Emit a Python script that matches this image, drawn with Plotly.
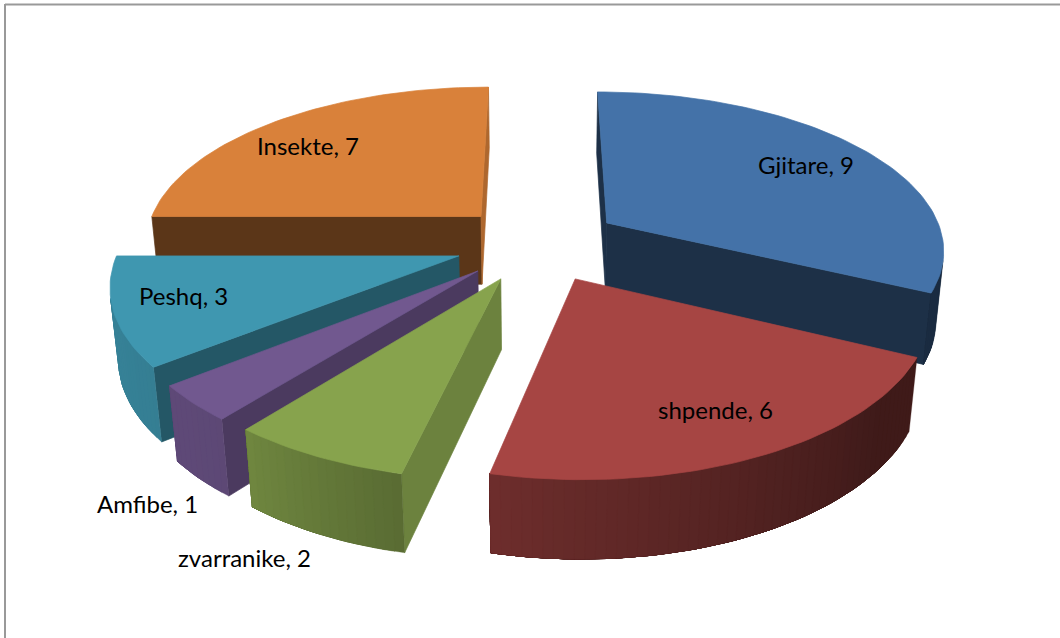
import numpy as np
import plotly.graph_objects as go

categories = ["Gjitare", "shpende", "zvarranike", "Amfibe", "Peshq", "Insekte"]
values = [9, 6, 2, 1, 3, 7]
colors = ["#4472A8", "#A64543", "#87A34D", "#71588F", "#3F97B0", "#D9813A"]
label_x = [806, 715, 244, 147, 183, 308]
label_y = [164, 409, 557, 503, 295, 145]

# projection of the exploded pie (camera looks down on a unit-radius disc)
W, H = 1060, 638
CX, CY = 538, 243
SCALE = 338.0
TILT = np.radians(27.7)
DIST = 5.7
HEIGHT = 0.235
EXPLODE = 0.245
STEP = 1.5


def project(x, y, z):
    d = DIST + y * np.cos(TILT) - z * np.sin(TILT)
    k = SCALE * DIST / d
    return CX + k * x, CY - k * (y * np.sin(TILT) + z * np.cos(TILT))


def clock(a):
    r = np.radians(a)
    return np.sin(r), np.cos(r)


def rim_shade(a):
    return np.interp(a, [130, 193, 218, 270], [0.38, 0.66, 0.82, 0.88])


def wall_shade(a):
    return np.interp(a % 360, [90, 103, 129, 141, 180], [0.8, 0.8, 0.66, 0.58, 0.42])


def shade(col, f):
    r, g, b = (int(col[i:i + 2], 16) for i in (1, 3, 5))
    return f"rgb({r * f:.0f},{g * f:.0f},{b * f:.0f})"


CAMERA = np.array([0.0, -DIST * np.cos(TILT), DIST * np.sin(TILT)])


def faces_camera(px, py, nx, ny):
    return (CAMERA[0] - px) * nx + (CAMERA[1] - py) * ny > 0


fig = go.Figure()


def poly(pts, color, name, width=0.7):
    xs, ys = zip(*[project(*p) for p in pts])
    fig.add_trace(go.Scatter(
        x=list(xs) + [xs[0]], y=list(ys) + [ys[0]], mode="lines", fill="toself",
        fillcolor=color, line=dict(color=color, width=width), hoverinfo="text",
        text=name, showlegend=False))


total = sum(values)
edges = np.concatenate([[0], np.cumsum(values)]) / total * 360
slices = []
for i in range(len(values)):
    a0, a1 = edges[i], edges[i + 1]
    slices.append((np.cos(np.radians((a0 + a1) / 2)), i, a0, a1))
slices.sort(key=lambda s: -s[0])

for _, i, a0, a1 in slices:
    col, name = colors[i], f"{categories[i]}, {values[i]}"
    mx, my = clock((a0 + a1) / 2)
    ox, oy = EXPLODE * mx, EXPLODE * my
    # radial walls
    for a, normal in ((a0, a0 - 90), (a1, a1 + 90)):
        nx, ny = clock(normal)
        if faces_camera(ox, oy, nx, ny):
            dx, dy = clock(a)
            poly([(ox, oy, 0), (ox + dx, oy + dy, 0), (ox + dx, oy + dy, -HEIGHT), (ox, oy, -HEIGHT)],
                 shade(col, wall_shade(normal)), name)
    # curved outer wall: each band runs to the end of the visible arc, the next one paints over it
    n = max(2, int(np.ceil((a1 - a0) / STEP)))
    grid = np.linspace(a0, a1, n + 1)
    visible = [b for b in grid if faces_camera(ox + clock(b)[0], oy + clock(b)[1], *clock(b))]
    for j in range(len(visible) - 1):
        arc = visible[j:]
        top = [(ox + clock(b)[0], oy + clock(b)[1], 0) for b in arc]
        bottom = [(ox + clock(b)[0], oy + clock(b)[1], -HEIGHT) for b in arc[::-1]]
        poly(top + bottom, shade(col, rim_shade((visible[j] + visible[j + 1]) / 2)), name, width=0.3)
    # top face
    pts = [(ox, oy, 0)] + [(ox + clock(b)[0], oy + clock(b)[1], 0) for b in grid]
    poly(pts, col, name)

annotations = [
    dict(x=x, y=y, text=f"{c}, {v}", showarrow=False, xanchor="center", yanchor="middle",
         font=dict(family="Lato", size=24, color="#000000"))
    for c, v, x, y in zip(categories, values, label_x, label_y)
]

fig.update_layout(
    width=W, height=H, margin=dict(l=0, r=0, t=0, b=0),
    paper_bgcolor="white", plot_bgcolor="white", showlegend=False,
    xaxis=dict(range=[0, W], visible=False, fixedrange=True),
    yaxis=dict(range=[H, 0], visible=False, fixedrange=True),
    annotations=annotations,
    shapes=[
        dict(type="line", x0=5, x1=W, y0=4.5, y1=4.5, line=dict(color="#999999", width=2), layer="below"),
        dict(type="line", x0=5, x1=5, y0=4, y1=H, line=dict(color="#999999", width=2), layer="below"),
    ],
)
fig.write_html("out.html", config=dict(displayModeBar=False),
               post_script="document.body.style.margin='0';document.body.style.overflow='hidden';")
